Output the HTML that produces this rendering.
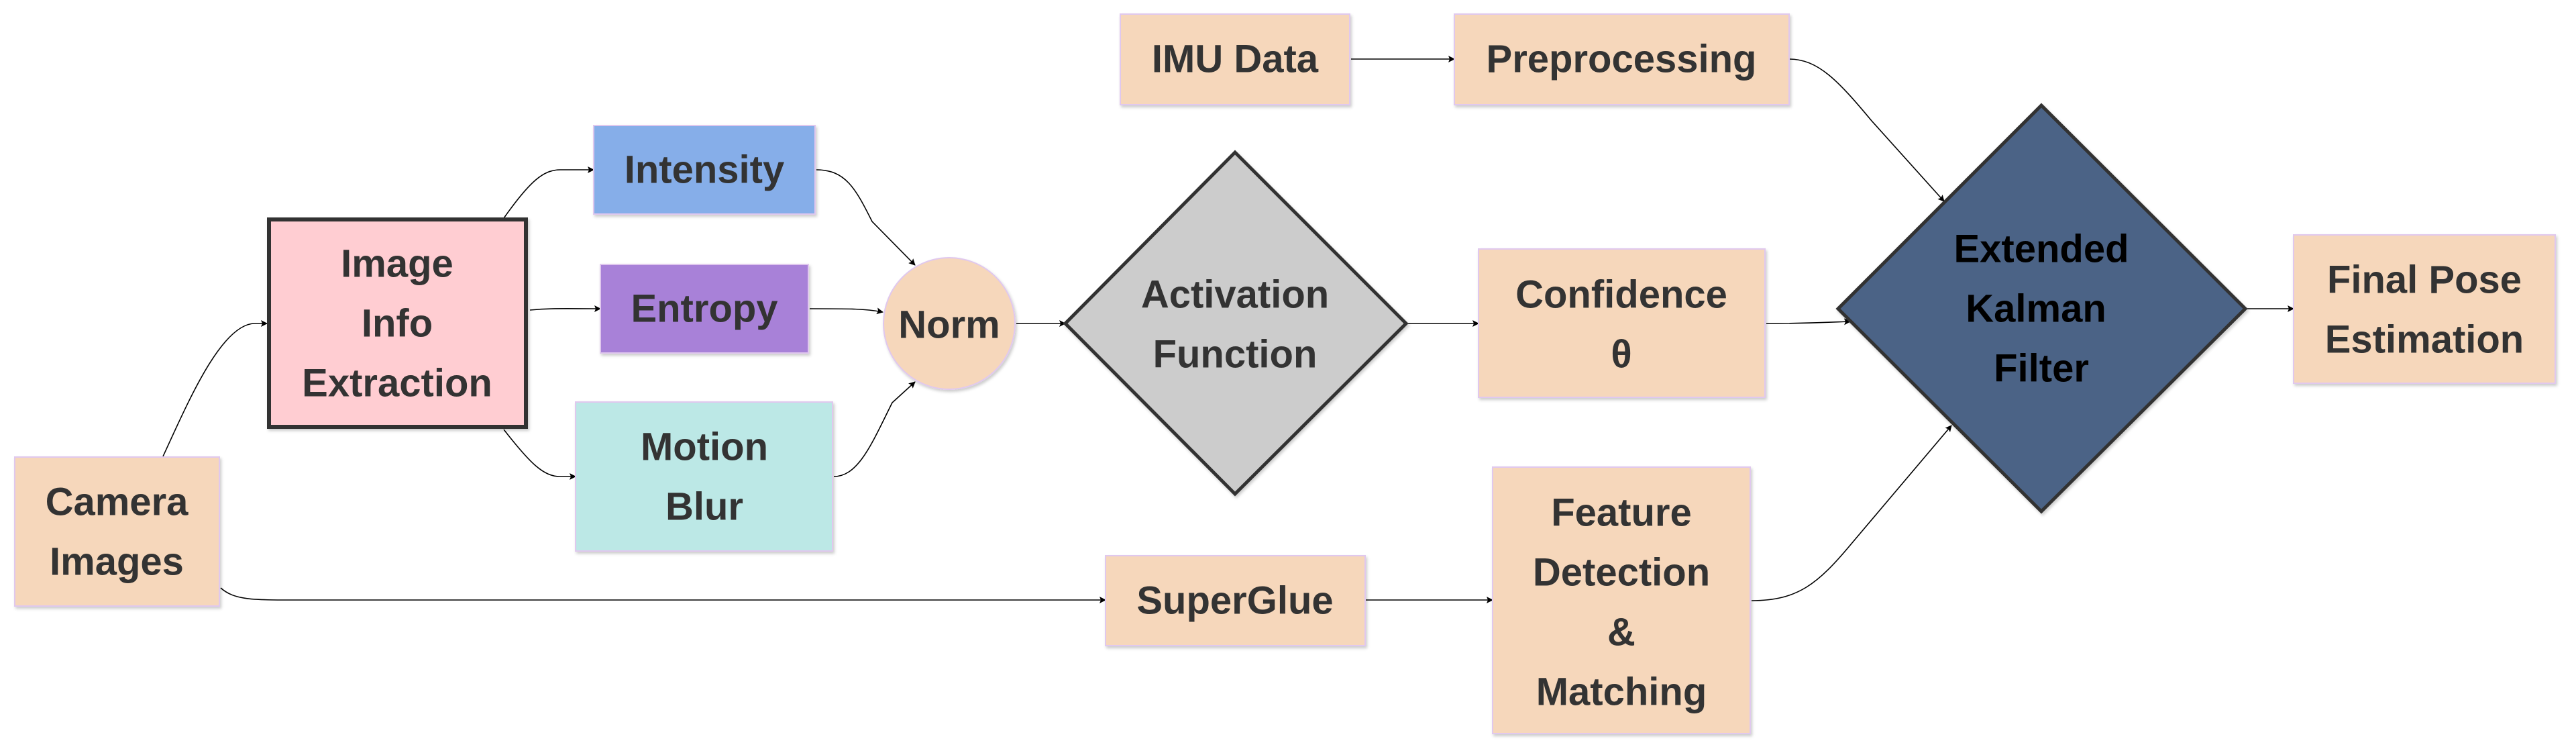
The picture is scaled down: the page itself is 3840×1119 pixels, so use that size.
<!DOCTYPE html>
<html><head><meta charset="utf-8"><style>
html,body{margin:0;padding:0;background:#fff;}
svg{display:block;}
text{font-family:"Liberation Sans",Arial,sans-serif;font-weight:bold;font-size:58px;fill:#333;text-anchor:middle;dominant-baseline:central;}
</style></head><body>
<svg width="3840" height="1119" viewBox="0 0 3840 1119" xmlns="http://www.w3.org/2000/svg">
<defs>
<marker id="a" markerWidth="10" markerHeight="10" refX="9" refY="5" orient="auto" markerUnits="userSpaceOnUse" viewBox="0 0 10 10">
<path d="M0,0 L10,5 L0,10 L2,5 Z" fill="#000"/></marker>
<filter id="s" x="-5%" y="-5%" width="115%" height="115%"><feDropShadow dx="2" dy="3" stdDeviation="2" flood-color="#000" flood-opacity="0.2"/></filter>
</defs>
<g fill="none" stroke="#000" stroke-width="1.6">
<path d="M243,680 C280,600 330,482 380,482 L398,482" marker-end="url(#a)"/>
<path d="M751,325 C790,270 810,253 835,253 L885,253" marker-end="url(#a)"/>
<path d="M790,462 C820,459 840,460 895,460" marker-end="url(#a)"/>
<path d="M751,640 C790,690 810,710 835,710 L858,710" marker-end="url(#a)"/>
<path d="M1217,253 C1260,253 1275,280 1300,330 L1364,395" marker-end="url(#a)"/>
<path d="M1207,460 C1270,460 1290,460 1316,465" marker-end="url(#a)"/>
<path d="M1243,710 C1280,710 1300,660 1330,600 L1364,569" marker-end="url(#a)"/>
<path d="M1515,482 L1588,482" marker-end="url(#a)"/>
<path d="M329,876 C350,895 380,894 450,894 L1648,894" marker-end="url(#a)"/>
<path d="M2014,88 L2168,88" marker-end="url(#a)"/>
<path d="M2036,894 L2225,894" marker-end="url(#a)"/>
<path d="M2096,482 C2150,482 2170,482 2204,482" marker-end="url(#a)"/>
<path d="M2633,482 C2700,482 2730,480 2758,479" marker-end="url(#a)"/>
<path d="M2667,88 C2710,88 2740,120 2790,180 L2898,300" marker-end="url(#a)"/>
<path d="M2611,895 C2680,895 2710,870 2760,810 L2909,634" marker-end="url(#a)"/>
<path d="M3347,460 L3419,460" marker-end="url(#a)"/>
</g>
<g filter="url(#s)" stroke="#e0c8ee" stroke-width="2">
<rect x="22" y="681" width="305" height="222" fill="#f6d7bb"/>
<rect x="885" y="187" width="330" height="132" fill="#86aee9"/>
<rect x="895" y="394" width="310" height="132" fill="#a881d8"/>
<rect x="858" y="599" width="383" height="222" fill="#bce8e6"/>
<circle cx="1415" cy="482" r="98" fill="#f6d7bb"/>
<rect x="1670" y="21" width="342" height="135" fill="#f6d7bb"/>
<rect x="2168" y="21" width="499" height="135" fill="#f6d7bb"/>
<rect x="2204" y="371" width="427" height="221" fill="#f6d7bb"/>
<rect x="1648" y="828" width="387" height="134" fill="#f6d7bb"/>
<rect x="2225" y="696" width="384" height="397" fill="#f6d7bb"/>
<rect x="3419" y="350" width="390" height="221" fill="#f6d7bb"/>
</g>
<rect x="401" y="327" width="383" height="309" fill="#ffcdd2" stroke="#333" stroke-width="6" filter="url(#s)"/>
<polygon points="1841,227 2096,482 1841,736 1588,482" fill="#cccccc" stroke="#333" stroke-width="5" filter="url(#s)"/>
<polygon points="3043,157 3347,460 3043,762 2740,460" fill="#4c6386" stroke="#333" stroke-width="5" filter="url(#s)"/>
<text x="174" y="748">Camera</text><text x="174" y="837">Images</text>
<text x="592" y="393">Image</text><text x="592" y="482">Info</text><text x="592" y="571">Extraction</text>
<text x="1050" y="253">Intensity</text>
<text x="1050" y="460">Entropy</text>
<text x="1050" y="666">Motion</text><text x="1050" y="755">Blur</text>
<text x="1415" y="484">Norm</text>
<text x="1841" y="439">Activation</text><text x="1841" y="528">Function</text>
<text x="1841" y="88">IMU Data</text>
<text x="2417" y="88">Preprocessing</text>
<text x="2417" y="439">Confidence</text><text x="2417" y="528">θ</text>
<text x="1841" y="895">SuperGlue</text>
<text x="2417" y="764">Feature</text><text x="2417" y="853">Detection</text><text x="2417" y="942">&amp;</text><text x="2417" y="1031">Matching</text>
<text x="3043" y="371" style="fill:#000">Extended</text><text x="3035" y="460" style="fill:#000">Kalman</text><text x="3043" y="549" style="fill:#000">Filter</text>
<text x="3614" y="417">Final Pose</text><text x="3614" y="506">Estimation</text>
</svg>
</body></html>
